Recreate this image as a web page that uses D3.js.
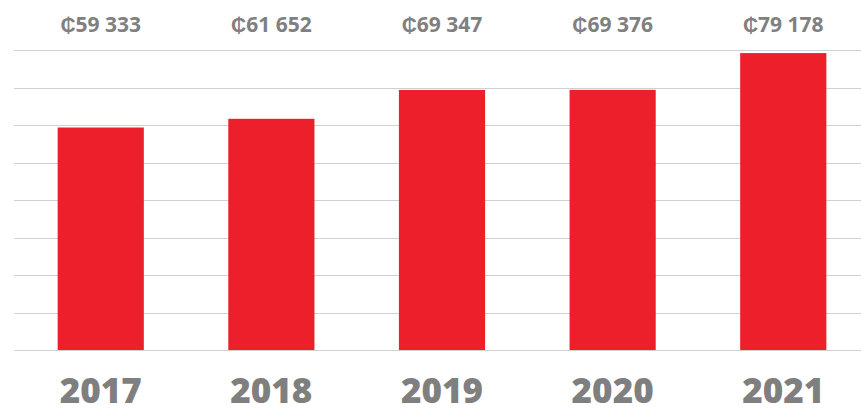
<!DOCTYPE html>
<meta charset="utf-8">
<style>
body { margin: 0; background: #fff; }
.grid line { stroke: #d0d0d0; stroke-width: 1.2; }
.bar { fill: #ed1f2b; }
.value { fill: #808080; font-family: "Open Sans", sans-serif; font-weight: 700; font-size: 21px; }
.year { fill: #7f7f7f; font-family: "Open Sans", sans-serif; font-weight: 800; font-size: 35px; }
</style>
<body>
<script src="https://d3js.org/d3.v7.min.js"></script>
<script>

var years = ["2017", "2018", "2019", "2020", "2021"];
var values = [59333, 61652, 69347, 69376, 79178];
var gridTicks = [0, 10000, 20000, 30000, 40000, 50000, 60000, 70000, 80000];

var width = 861, height = 412;

var svg = d3.select("body").append("svg")
    .attr("width", width)
    .attr("height", height);

var x = d3.scaleBand()
    .domain(years)
    .range([15, 869])
    .paddingInner(0.495)
    .paddingOuter(0.25);

var y = d3.scaleLinear()
    .domain([0, 80000])
    .range([350, 50]);

var fmt = function(v) {
    return "\u20B5" + d3.format(",")(v).replace(/,/g, " ");
};

svg.append("g")
    .attr("class", "grid")
  .selectAll("line")
    .data(gridTicks)
  .enter().append("line")
    .attr("x1", 14)
    .attr("x2", width)
    .attr("y1", function(d) { return Math.round(y(d)) + 0.5; })
    .attr("y2", function(d) { return Math.round(y(d)) + 0.5; });

svg.append("g")
  .selectAll("rect")
    .data(values)
  .enter().append("rect")
    .attr("class", "bar")
    .attr("x", function(d, i) { return x(years[i]); })
    .attr("y", function(d) { return y(d); })
    .attr("width", x.bandwidth())
    .attr("height", function(d) { return y(0) - y(d); });

svg.append("g")
  .selectAll("text")
    .data(values)
  .enter().append("text")
    .attr("class", "value")
    .attr("text-anchor", "middle")
    .attr("x", function(d, i) { return x(years[i]) + x.bandwidth() / 2; })
    .attr("y", 32)
    .text(fmt);

svg.append("g")
  .selectAll("text")
    .data(years)
  .enter().append("text")
    .attr("class", "year")
    .attr("text-anchor", "middle")
    .attr("x", function(d) { return x(d) + x.bandwidth() / 2; })
    .attr("y", 403)
    .text(function(d) { return d; });

</script>
